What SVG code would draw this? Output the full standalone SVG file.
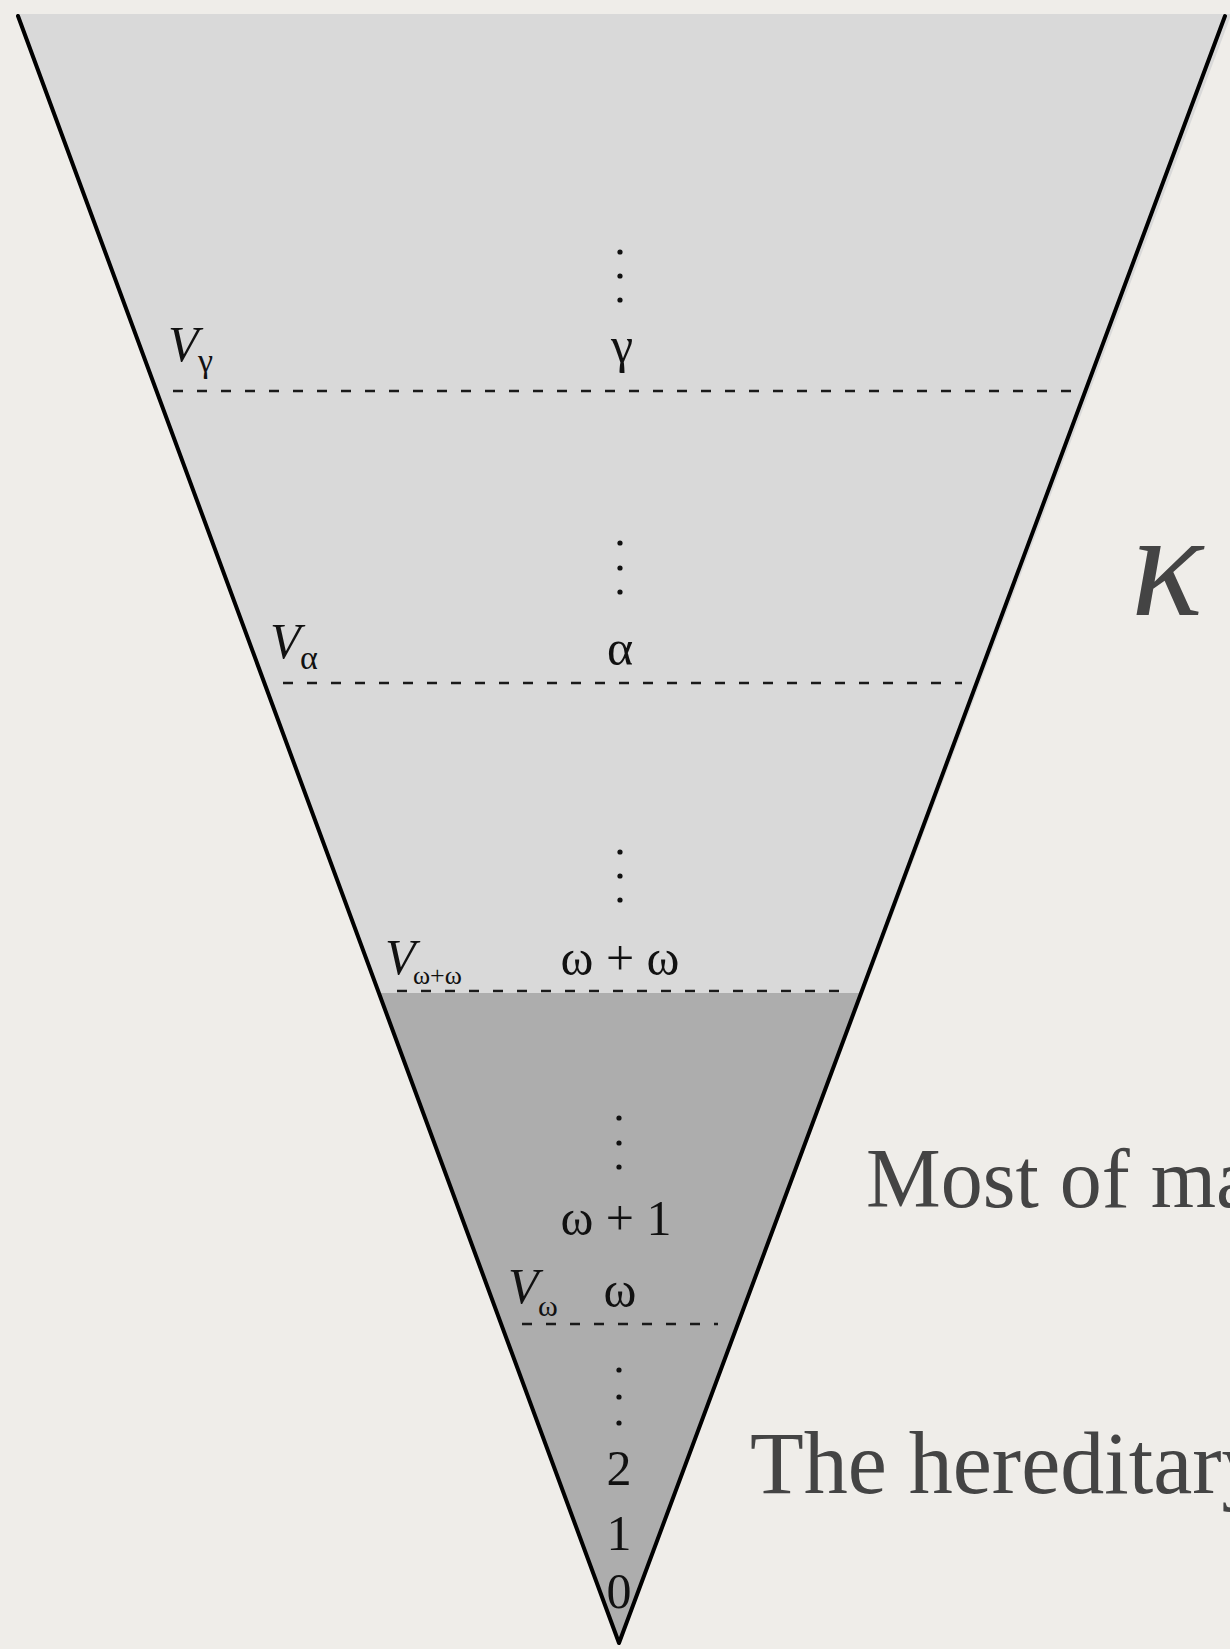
<svg xmlns="http://www.w3.org/2000/svg" width="1230" height="1649" viewBox="0 0 1230 1649">
<style>
.lbl{font-family:"Liberation Serif","Times New Roman",serif;fill:#111;}
.it{font-style:italic;}
.big{font-size:50px;}
.side{font-family:"Liberation Serif","Times New Roman",serif;fill:#444;}
.dash{stroke:#1a1a1a;stroke-width:2.6;stroke-dasharray:10 14;fill:none;}
.edge{stroke:#000;stroke-width:4;fill:none;stroke-linecap:round;stroke-linejoin:round;}
.dot{fill:#111;}
</style>
<rect x="0" y="0" width="1230" height="1649" fill="#efede9"/>
<g id="cone">
<polygon points="17,14 1230,14 1230,18 619,1644" fill="#d9d9d9"/>
<polygon points="378,993 861,993 619,1644" fill="#adadad"/>
<polyline class="edge" points="18,16 619,1643 1225,16"/>
</g>
<g id="levels">
<line class="dash" x1="173" y1="391" x2="1082" y2="391"/>
<line class="dash" x1="283" y1="683" x2="962" y2="683"/>
<line class="dash" x1="397" y1="991" x2="846" y2="991"/>
<line class="dash" x1="522" y1="1324" x2="718" y2="1324"/>
</g>
<g id="dots">
<circle class="dot" cx="620" cy="252" r="2.6"/><circle class="dot" cx="620" cy="276" r="2.6"/><circle class="dot" cx="620" cy="300" r="2.6"/>
<circle class="dot" cx="620" cy="543" r="2.6"/><circle class="dot" cx="620" cy="568" r="2.6"/><circle class="dot" cx="620" cy="592" r="2.6"/>
<circle class="dot" cx="620" cy="852" r="2.6"/><circle class="dot" cx="620" cy="876" r="2.6"/><circle class="dot" cx="620" cy="900" r="2.6"/>
<circle class="dot" cx="619" cy="1118" r="2.6"/><circle class="dot" cx="619" cy="1143" r="2.6"/><circle class="dot" cx="619" cy="1167" r="2.6"/>
<circle class="dot" cx="619" cy="1370" r="2.6"/><circle class="dot" cx="619" cy="1397" r="2.6"/><circle class="dot" cx="619" cy="1423" r="2.6"/>
</g>
<g id="labels">
<text class="lbl it big" x="168" y="361">V</text>
<text class="lbl" x="198" y="372" font-size="34">γ</text>
<text class="lbl big" x="622" y="362" text-anchor="middle">γ</text>

<text class="lbl it big" x="270" y="658">V</text>
<text class="lbl" x="300" y="669" font-size="34">α</text>
<text class="lbl big" x="620" y="665" text-anchor="middle">α</text>

<text class="lbl it big" x="385" y="974">V</text>
<text class="lbl" x="413" y="984" font-size="26">ω+ω</text>
<text class="lbl big" x="620" y="975" text-anchor="middle">ω + ω</text>

<text class="lbl big" x="616" y="1235" text-anchor="middle">ω + 1</text>

<text class="lbl it big" x="508" y="1303">V</text>
<text class="lbl" x="538" y="1316" font-size="30">ω</text>
<text class="lbl big" x="620" y="1307" text-anchor="middle">ω</text>

<text class="lbl big" x="619" y="1485" text-anchor="middle">2</text>
<text class="lbl big" x="619" y="1550" text-anchor="middle">1</text>
<text class="lbl big" x="619" y="1608" text-anchor="middle">0</text>
</g>
<g id="side-text">
<text class="side it" x="1167" y="615" font-size="150" text-anchor="middle">κ</text>
<text class="side" x="866" y="1207" font-size="84">Most of ma</text>
<text class="side" x="750" y="1493" font-size="88">The hereditary</text>
</g>
</svg>
